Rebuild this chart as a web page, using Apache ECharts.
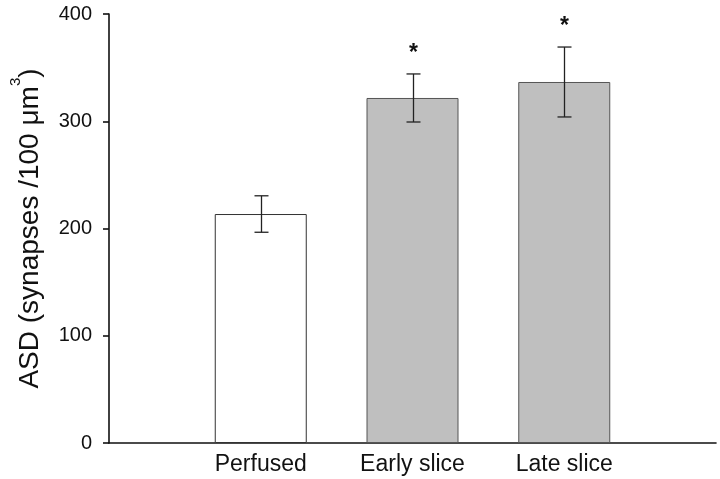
<!DOCTYPE html>
<html>
<head>
<meta charset="utf-8">
<style>html,body{margin:0;padding:0;background:#fff;}#chart{width:720px;height:479px;}</style>
<script src="https://cdn.jsdelivr.net/npm/echarts@6/dist/echarts.min.js"></script>
</head>
<body>
<div id="chart"></div>
<script>
const categories = ['Perfused', 'Early slice', 'Late slice'];
const means = [213.5, 321.7, 336.6];
const errors = [17, 22.4, 32.6];
const marks = ['', '*', '*'];
const yTicks = [0, 100, 200, 300, 400];
const fills = ['#ffffff', '#bfbfbf', '#bfbfbf'];
const borders = ['#333333', '#555555', '#555555'];

const axisCats = [''].concat(categories, ['']);
const barData = [null].concat(means.map((v, i) => ({
  value: v,
  itemStyle: { color: fills[i], borderColor: borders[i], borderWidth: 1 }
})), [null]);
const errData = means.map((v, i) => [i + 1, v - errors[i], v + errors[i], marks[i]]);

const chart = echarts.init(document.getElementById('chart'), null, { renderer: 'canvas' });
const FONT = '"Liberation Sans", Arial, sans-serif';
chart.setOption({
  animation: false,
  backgroundColor: '#ffffff',
  grid: { left: 99, right: 4, top: 14, bottom: 36, containLabel: false },
  xAxis: {
    type: 'category',
    data: axisCats,
    boundaryGap: false,
    axisLine: { lineStyle: { color: '#111', width: 1.6 } },
    axisTick: { show: false },
    axisLabel: { color: '#111', fontSize: 23, fontFamily: FONT, margin: 10, interval: 0 },
    splitLine: { show: false }
  },
  yAxis: {
    type: 'value',
    min: yTicks[0],
    max: yTicks[yTicks.length - 1],
    interval: 100,
    name: '{a|ASD (synapses /100 }{mu|μ}{a|m}{sup|3}{a|)}',
    nameLocation: 'middle',
    nameGap: 65,
    nameTextStyle: {
      fontFamily: FONT,
      color: '#111',
      fontSize: 28,
      rich: {
        a: { fontFamily: FONT, fontSize: 28, color: '#111', lineHeight: 36, verticalAlign: 'bottom' },
        mu: { fontFamily: FONT, fontSize: 28, color: '#111', lineHeight: 36, verticalAlign: 'bottom' },
        sup: { fontFamily: FONT, fontSize: 15, color: '#111', lineHeight: 15, verticalAlign: 'top' }
      }
    },
    axisLine: { show: true, lineStyle: { color: '#111', width: 1.6 } },
    axisTick: { show: true, length: 6, lineStyle: { color: '#111', width: 1.6 } },
    axisLabel: { color: '#111', fontSize: 20, fontFamily: FONT, margin: 17 },
    splitLine: { show: false }
  },
  series: [
    {
      type: 'bar',
      data: barData,
      barWidth: 92,
      z: 2
    },
    {
      type: 'custom',
      data: errData,
      z: 3,
      renderItem: function (params, api) {
        const x = api.value(0);
        const lo = api.coord([x, api.value(1)]);
        const hi = api.coord([x, api.value(2)]);
        const cx = Math.round(lo[0]) + 0.5;
        const hw = 7;
        const st = { stroke: '#222', lineWidth: 1.3 };
        const children = [
          { type: 'line', shape: { x1: cx, y1: hi[1], x2: cx, y2: lo[1] }, style: st },
          { type: 'line', shape: { x1: cx - hw, y1: hi[1], x2: cx + hw, y2: hi[1] }, style: st },
          { type: 'line', shape: { x1: cx - hw, y1: lo[1], x2: cx + hw, y2: lo[1] }, style: st }
        ];
        const m = errData[params.dataIndex][3];
        if (m) {
          children.push({
            type: 'text',
            style: { text: m, x: cx, y: hi[1] - 20, align: 'center', verticalAlign: 'middle',
              font: 'bold 23px ' + FONT, fill: '#111' }
          });
        }
        return { type: 'group', children: children };
      }
    }
  ]
});
</script>
</body>
</html>
